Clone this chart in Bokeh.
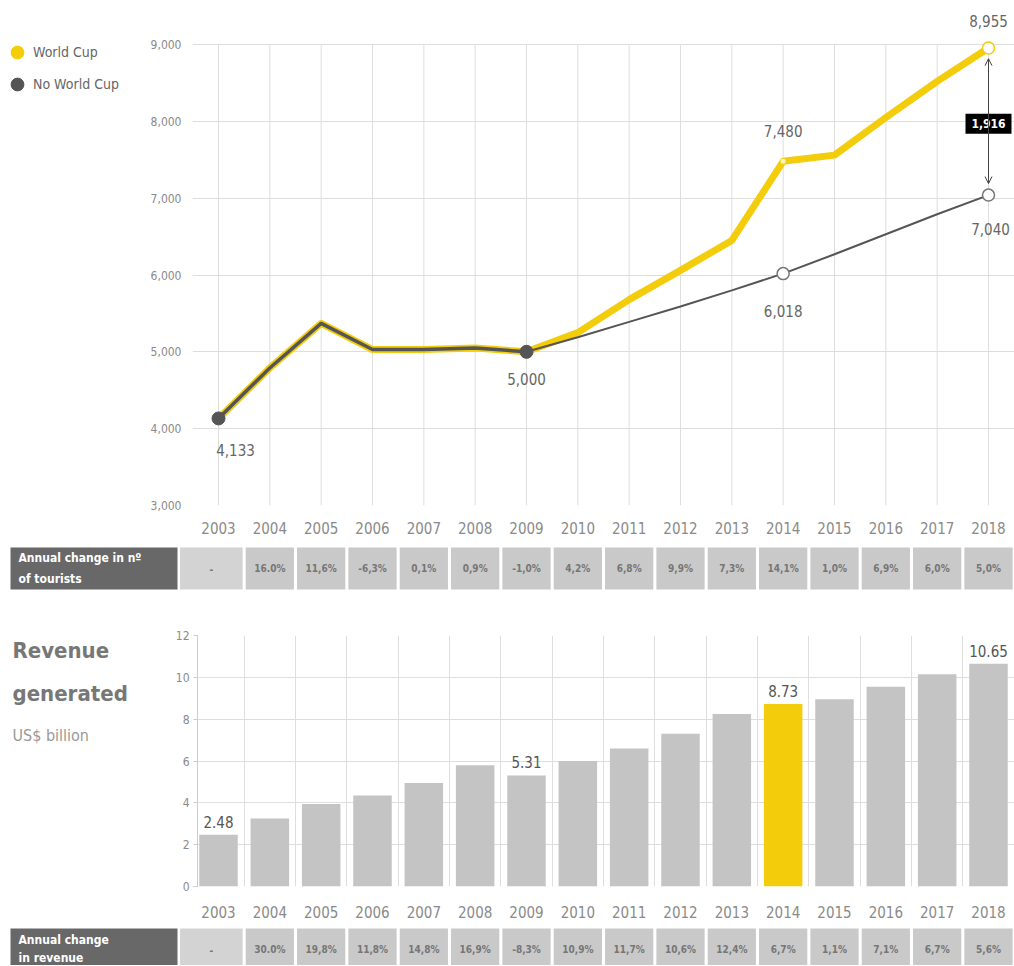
from bokeh.plotting import figure
from bokeh.models import (ColumnDataSource, FixedTicker, NumeralTickFormatter, Legend,
                          LegendItem, Arrow, OpenHead, Range1d)
from bokeh.layouts import column, row
from bokeh.embed import file_html
from bokeh.resources import INLINE
from bokeh.core.properties import value

# ---------------- data ----------------
years = list(range(2003, 2019))
tourists_world_cup = [4133, 4790, 5370, 5030, 5030, 5050, 5000, 5250, 5680, 6060,
                      6450, 7480, 7560, 8050, 8520, 8955]
tourists_no_world_cup = [4133, 4790, 5370, 5030, 5030, 5050, 5000, 5190, 5390, 5590,
                         5800, 6018, 6270, 6530, 6790, 7040]
tourist_change = ["-", "16.0%", "11,6%", "-6,3%", "0,1%", "0,9%", "-1,0%", "4,2%",
                  "6,8%", "9,9%", "7,3%", "14,1%", "1,0%", "6,9%", "6,0%", "5,0%"]
revenue = [2.48, 3.25, 3.95, 4.35, 4.95, 5.8, 5.31, 6.0, 6.6, 7.3, 8.25, 8.73,
           8.95, 9.55, 10.15, 10.65]
revenue_change = ["-", "30.0%", "19,8%", "11,8%", "14,8%", "16,9%", "-8,3%", "10,9%",
                  "11,7%", "10,6%", "12,4%", "6,7%", "1,1%", "7,1%", "6,7%", "5,6%"]
legend_labels = ["World Cup", "No World Cup"]
split_year = 2009
world_cup_year = 2014
gap_label = "1,916"
tourist_ticks = list(range(3000, 9001, 1000))
revenue_ticks = list(range(0, 13, 2))
revenue_label_years = [2003, 2009, 2014, 2018]
tourist_row_title = ["Annual change in nº", "of tourists"]
revenue_row_title = ["Annual change", "in revenue"]
revenue_title = ["Revenue", "generated", "US$ billion"]

# ---------------- styles ----------------
FONT = "DejaVu Sans Condensed"
YELLOW = "#f3cd0c"
DARK = "#555555"
GRID = "#dedede"
TXT = "#666666"
AXIS_TXT = "#8a8a8a"
BAR = "#c4c4c4"
CELL = "#c9c9c9"
CELL_DASH = "#d3d3d3"
CELL_HEAD = "#686868"
W = 1014
PX = 770 / 15        # pixels per year
X2003 = 218          # page pixel of year 2003
SIDE = 140           # width of the left side figures


def x_range_for(frame_left):
    return Range1d(2003 - (X2003 - frame_left) / PX, 2003 + (W - X2003) / PX)


def style_common(p):
    p.outline_line_color = None
    p.background_fill_color = "white"


def side_figure(height, top, bottom):
    # frame is aligned with the neighbouring chart's frame; y counts pixels from figure top
    p = figure(width=SIDE, height=height, output_backend="svg", toolbar_location=None,
               x_range=Range1d(0, SIDE), y_range=Range1d(height - bottom, top),
               x_axis_location=None, y_axis_location=None,
               min_border_left=0, min_border_right=0, min_border_top=top,
               min_border_bottom=bottom)
    style_common(p)
    p.grid.visible = False
    return p


# ---------------- top: legend side ----------------
pL = side_figure(540, 2, 35)
# legend renderers: first data point of each series (lies outside this side panel's view)
r_leg_wc = pL.scatter(x=years[:1], y=tourists_world_cup[:1], size=13,
                      fill_color=YELLOW, line_color=YELLOW)
r_leg_nwc = pL.scatter(x=years[:1], y=tourists_no_world_cup[:1], size=13,
                       fill_color=DARK, line_color=DARK)
legend = Legend(items=[LegendItem(label=legend_labels[0], renderers=[r_leg_wc], index=0),
                       LegendItem(label=legend_labels[1], renderers=[r_leg_nwc], index=0)],
                location=(1, 405), orientation="vertical",
                glyph_width=32, glyph_height=32, spacing=0, padding=0, margin=0,
                label_standoff=-6, border_line_color=None, background_fill_alpha=0,
                label_text_font=FONT, label_text_font_size="14px", label_text_color=TXT)
pL.add_layout(legend)

# ---------------- top: tourists line chart ----------------
pA = figure(width=W - SIDE, height=540, output_backend="svg", toolbar_location=None,
            x_range=x_range_for(192), y_range=Range1d(3000, 3000 + 6000 * 503 / 461),
            min_border_left=192 - SIDE, min_border_right=0, min_border_top=2,
            min_border_bottom=35)
style_common(pA)
pA.xgrid.visible = False
pA.ygrid.ticker = FixedTicker(ticks=tourist_ticks)
pA.ygrid.grid_line_color = GRID
pA.segment(x0=years, y0=tourist_ticks[0], x1=years, y1=tourist_ticks[-1],
           line_color=GRID, line_width=1)

pA.xaxis.ticker = FixedTicker(ticks=years)
pA.xaxis.axis_line_color = None
pA.xaxis.major_tick_line_color = None
pA.xaxis.minor_tick_line_color = None
pA.xaxis.major_label_text_font = FONT
pA.xaxis.major_label_text_font_size = "15px"
pA.xaxis.major_label_text_color = AXIS_TXT
pA.xaxis.major_label_standoff = 10

pA.yaxis.ticker = FixedTicker(ticks=tourist_ticks)
pA.yaxis.formatter = NumeralTickFormatter(format="0,0")
pA.yaxis.axis_line_color = None
pA.yaxis.major_tick_line_color = None
pA.yaxis.minor_tick_line_color = None
pA.yaxis.major_label_text_font = FONT
pA.yaxis.major_label_text_font_size = "12px"
pA.yaxis.major_label_text_color = AXIS_TXT
pA.yaxis.major_label_standoff = 5

split = years.index(split_year)
wc_idx = years.index(world_cup_year)
pA.line(years, tourists_world_cup, line_color=YELLOW, line_width=7,
        line_join="round", line_cap="round")
pA.line(years[:split + 1], tourists_no_world_cup[:split + 1], line_color=DARK,
        line_width=3.5, line_join="round")
pA.line(years[split:], tourists_no_world_cup[split:], line_color=DARK, line_width=2)

# markers
pA.scatter([years[0], years[split]], [tourists_no_world_cup[0], tourists_no_world_cup[split]],
           size=13, fill_color=DARK, line_color=DARK)
pA.scatter([years[wc_idx], years[-1]], [tourists_no_world_cup[wc_idx], tourists_no_world_cup[-1]],
           size=12, fill_color="white", line_color="#777777", line_width=1.5)
pA.scatter([years[-1]], [tourists_world_cup[-1]], size=12, fill_color="white",
           line_color=YELLOW, line_width=1.5)
pA.scatter([years[wc_idx]], [tourists_world_cup[wc_idx]], size=5, fill_color="#fff7c0",
           line_color=None)

# value labels
lab_x = [years[0], years[split], years[wc_idx], years[wc_idx], years[-1], years[-1]]
lab_v = [tourists_no_world_cup[0], tourists_no_world_cup[split], tourists_no_world_cup[wc_idx],
         tourists_world_cup[wc_idx], tourists_world_cup[-1], tourists_no_world_cup[-1]]
lab_src = ColumnDataSource(dict(x=lab_x, y=lab_v, t=[f"{v:,}" for v in lab_v],
                                xo=[17, 0, 0, 0, 0, 2], yo=[32, 27, 37, -30, -27, 34]))
pA.text(x="x", y="y", text="t", x_offset="xo", y_offset="yo", source=lab_src,
        text_font=value(FONT), text_font_size="15px", text_color=TXT,
        text_align="center", text_baseline="middle")

# gap arrow
pA.add_layout(Arrow(x_start=years[-1], y_start=tourists_no_world_cup[-1] + 150,
                    x_end=years[-1], y_end=tourists_world_cup[-1] - 140,
                    start=OpenHead(size=7, line_color="#444444", line_width=1),
                    end=OpenHead(size=7, line_color="#444444", line_width=1),
                    line_color="#444444", line_width=1))
mid = (tourists_world_cup[-1] + tourists_no_world_cup[-1]) / 2 - 30
pA.rect(x=[years[-1]], y=[mid], width=46, height=20, width_units="screen",
        height_units="screen", fill_color="black", line_color=None)
pA.text(x=[years[-1]], y=[mid], text=[gap_label], text_font=value(FONT),
        text_font_size="12px", text_font_style="bold", text_color="white",
        text_align="center", text_baseline="middle")


# ---------------- table rows ----------------
def make_table(height, pad_top, title_lines, title_ys, values):
    cell_h = 42.0
    y_end = 1 + pad_top / cell_h
    y_start = y_end - height / cell_h
    p = figure(width=W, height=height, output_backend="svg", toolbar_location=None,
               x_range=x_range_for(0), y_range=Range1d(y_start, y_end),
               x_axis_location=None, y_axis_location=None,
               min_border_left=0, min_border_right=0, min_border_top=0, min_border_bottom=0)
    style_common(p)
    p.grid.visible = False
    lefts = [y - 0.47 for y in years]
    rights = [y + 0.47 for y in years]
    lefts[0] = 2003 - 41 / PX + 0.05
    colors = [CELL_DASH] + [CELL] * (len(years) - 1)
    p.quad(left=[2003 - 208 / PX], right=[2003 - 41 / PX], bottom=[0], top=[1],
           fill_color=CELL_HEAD, line_color=None)
    p.quad(left=lefts, right=rights, bottom=0, top=1, fill_color=colors, line_color=None)
    p.text(x=[(l + r) / 2 for l, r in zip(lefts, rights)], y=[0.5] * len(years), text=values,
           text_font=value(FONT), text_font_size="10px", text_font_style="bold",
           text_color="#767676", text_align="center", text_baseline="middle")
    p.text(x=[2003 - 200 / PX] * len(title_lines), y=title_ys, text=title_lines,
           text_font=value(FONT), text_font_size="12px", text_font_style="bold",
           text_color="white", text_align="left", text_baseline="middle")
    return p


pB = make_table(55, 7, tourist_row_title, [0.74, 0.26], tourist_change)

# ---------------- revenue: title side ----------------
pT = side_figure(330, 40, 39)
pT.text(x=[12, 12, 12], y=[55, 98, 140], text=revenue_title, text_font=value(FONT),
        text_font_size=["22px", "22px", "16px"],
        text_font_style=["bold", "bold", "normal"],
        text_color=["#777777", "#777777", "#999999"],
        text_align="left", text_baseline="middle")

# ---------------- revenue bar chart ----------------
pC = figure(width=W - SIDE, height=330, output_backend="svg", toolbar_location=None,
            x_range=x_range_for(197), y_range=Range1d(0, 12),
            min_border_left=197 - SIDE, min_border_right=0, min_border_top=40,
            min_border_bottom=39)
style_common(pC)
pC.xgrid.ticker = FixedTicker(ticks=[y + 0.5 for y in years])
pC.xgrid.grid_line_color = GRID
pC.ygrid.ticker = FixedTicker(ticks=revenue_ticks)
pC.ygrid.grid_line_color = GRID

bar_colors = [YELLOW if y == world_cup_year else BAR for y in years]
pC.vbar(x=years, top=revenue, width=0.75, fill_color=bar_colors, line_color=None)
rl_idx = [years.index(y) for y in revenue_label_years]
pC.text(x=[years[i] for i in rl_idx], y=[revenue[i] for i in rl_idx],
        text=[f"{revenue[i]:.2f}" for i in rl_idx], y_offset=-13,
        text_font=value(FONT), text_font_size="15px", text_color="#555555",
        text_align="center", text_baseline="middle")

pC.xaxis.ticker = FixedTicker(ticks=years)
pC.xaxis.axis_line_color = None
pC.xaxis.major_tick_line_color = None
pC.xaxis.minor_tick_line_color = None
pC.xaxis.major_label_text_font = FONT
pC.xaxis.major_label_text_font_size = "15px"
pC.xaxis.major_label_text_color = AXIS_TXT
pC.xaxis.major_label_standoff = 13

pC.yaxis.ticker = FixedTicker(ticks=revenue_ticks)
pC.yaxis.axis_line_color = "#cccccc"
pC.yaxis.major_tick_line_color = "#cccccc"
pC.yaxis.major_tick_out = 4
pC.yaxis.major_tick_in = 0
pC.yaxis.minor_tick_line_color = None
pC.yaxis.major_label_text_font = FONT
pC.yaxis.major_label_text_font_size = "12px"
pC.yaxis.major_label_text_color = AXIS_TXT
pC.yaxis.major_label_standoff = 4

# ---------------- bottom table ----------------
pD = make_table(40, 3, revenue_row_title, [0.72, 0.29], revenue_change)

layout = column(row(pL, pA, spacing=0), pB, row(pT, pC, spacing=0), pD, spacing=0)
open("out.html", "w").write(file_html(layout, INLINE))
